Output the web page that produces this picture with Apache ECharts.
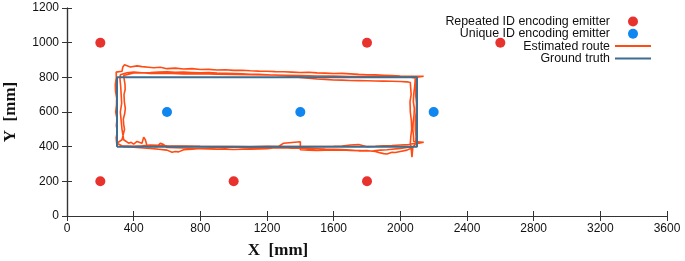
<!DOCTYPE html>
<html>
<head>
<meta charset="utf-8">
<script src="https://cdn.jsdelivr.net/npm/echarts@6/dist/echarts.min.js"></script>
<style>
  html, body { margin: 0; padding: 0; background: #fff; }
  #chart { width: 685px; height: 261px; }
</style>
</head>
<body>
<div id="chart"></div>
<script>
const xTicks = [0, 400, 800, 1200, 1600, 2000, 2400, 2800, 3200, 3600];
const yTicks = [0, 200, 400, 600, 800, 1000, 1200];

const repeatedEmitters = [[200, 1000], [1800, 1000], [2600, 1000], [200, 200], [1000, 200], [1800, 200]];
const uniqueEmitters = [[600, 600], [1400, 600], [2200, 600]];

const groundTruth = [[300, 400], [300, 800], [2100, 800], [2100, 400], [300, 400]];

// estimated route, three laps
const routeLapA = [
  [300, 400], [295, 450], [302, 490], [296, 520], [300, 560], [292, 600], [297, 640], [298, 680],
  [291, 720], [290, 760], [296, 800], [295, 830], [330, 835], [335, 860], [345, 872], [380, 860],
  [420, 866], [450, 862], [490, 858], [520, 855], [560, 858], [600, 850], [650, 853], [700, 848],
  [750, 850], [800, 845], [850, 846], [900, 842], [950, 844], [1000, 840], [1050, 841], [1100, 838],
  [1150, 836], [1200, 835], [1250, 833], [1300, 832], [1350, 830], [1400, 828], [1450, 829],
  [1500, 826], [1550, 824], [1600, 822], [1650, 823], [1700, 820], [1750, 817], [1800, 815],
  [1850, 814], [1900, 812], [1950, 810], [2000, 808], [2060, 806], [2140, 806], [2090, 800],
  [2088, 770], [2085, 740], [2080, 700], [2078, 660], [2084, 620], [2082, 580], [2077, 540],
  [2075, 500], [2079, 460], [2080, 430], [2140, 425], [2090, 415], [2075, 395], [2040, 380],
  [2000, 372], [1970, 366], [1950, 368], [1920, 358], [1900, 360], [1870, 366], [1850, 372],
  [1820, 375], [1800, 378], [1750, 376], [1700, 380], [1650, 383], [1600, 385], [1550, 386],
  [1500, 388], [1450, 390], [1400, 392], [1350, 391], [1300, 394], [1250, 393], [1200, 392],
  [1150, 395], [1100, 396], [1050, 395], [1000, 398], [950, 396], [900, 395], [850, 392],
  [800, 390], [750, 386], [700, 382], [670, 370], [650, 372], [630, 368], [600, 380], [550, 385],
  [500, 390], [460, 392], [420, 395], [380, 398], [340, 400], [300, 420]
];
const routeLapB = [
  [330, 440], [345, 500], [340, 530], [338, 560], [346, 590], [350, 620], [344, 660], [342, 700],
  [349, 730], [348, 760], [343, 790], [340, 810], [370, 818], [400, 825], [450, 826], [500, 828],
  [550, 831], [600, 832], [650, 829], [700, 830], [750, 828], [800, 826], [850, 827], [900, 824],
  [950, 823], [1000, 822], [1050, 820], [1100, 818], [1150, 817], [1200, 815], [1250, 812],
  [1300, 810], [1350, 805], [1400, 800], [1450, 795], [1500, 790], [1550, 788], [1600, 785],
  [1650, 784], [1700, 782], [1750, 781], [1800, 780], [1850, 779], [1900, 778], [1950, 777],
  [2000, 776], [2040, 774], [2060, 770], [2062, 740], [2065, 700], [2058, 660], [2060, 600],
  [2066, 550], [2068, 500], [2063, 460], [2060, 420], [2066, 380], [2070, 340], [2075, 400],
  [2040, 395], [2000, 390], [1950, 385], [1920, 382], [1880, 380], [1840, 376], [1800, 375],
  [1750, 377], [1700, 378], [1650, 381], [1600, 380], [1550, 379], [1500, 378], [1450, 380],
  [1400, 382], [1400, 428], [1300, 420], [1260, 395], [1200, 388], [1150, 387], [1100, 386],
  [1050, 385], [1000, 384], [950, 386], [900, 385], [850, 387], [800, 388], [750, 390], [700, 392],
  [650, 394], [600, 396], [580, 412], [560, 420], [540, 400], [510, 404], [480, 405], [470, 440],
  [460, 455], [450, 420], [440, 410], [420, 430], [400, 415], [385, 425], [370, 420], [340, 440]
];
const routeLapC = [
  [330, 500], [325, 550], [320, 600], [328, 650], [325, 700], [322, 750], [318, 790], [320, 815],
  [360, 826], [400, 830], [450, 826], [500, 822], [600, 824], [700, 820], [800, 821], [900, 818],
  [1000, 817], [1100, 815], [1200, 814], [1300, 812], [1400, 810], [1500, 808], [1600, 807],
  [1700, 805], [1800, 804], [1900, 803], [2000, 802], [2060, 802], [2095, 795], [2094, 750],
  [2092, 700], [2097, 650], [2095, 600], [2090, 550], [2090, 500], [2094, 460], [2092, 420],
  [2050, 412], [2000, 410], [1950, 407], [1900, 405], [1850, 402], [1800, 400], [1750, 412],
  [1700, 410], [1650, 404], [1600, 402], [1500, 401], [1400, 400], [1300, 401], [1200, 402],
  [1100, 399], [1000, 400], [900, 401], [800, 402], [700, 404], [600, 405], [550, 408], [500, 410],
  [450, 405], [400, 402], [360, 404], [320, 405]
];
const estimatedRoute = routeLapA.concat(routeLapB, routeLapC);

const axisColor = '#333';
const labelFont = 'Liberation Sans, Arial, sans-serif';
const nameStyle = { fontFamily: 'Liberation Serif, serif', fontWeight: 'bold', fontSize: 17, color: '#111' };
const plain = v => String(v);
const hiddenMarker = { color: 'rgba(0,0,0,0)', borderWidth: 0, opacity: 0 };

const chart = echarts.init(document.getElementById('chart'));

function mirrorAxis(pos, min, max, interval) {
  return {
    type: 'value', position: pos, min, max, interval,
    axisLine: { show: true, lineStyle: { color: axisColor, width: 1.2 } },
    axisTick: { show: true, inside: true, length: 5, lineStyle: { color: axisColor } },
    axisLabel: { show: false },
    splitLine: { show: false }
  };
}

chart.setOption({
  backgroundColor: '#fff',
  animation: false,
  grid: { left: 67, right: 18, top: 8, bottom: 45, outerBoundsMode: 'none', containLabel: false },
  legend: {
    orient: 'vertical',
    right: 28,
    top: 10.5,
    align: 'right',
    itemWidth: 36,
    itemHeight: 10,
    itemGap: 0.3,
    textStyle: { fontFamily: labelFont, fontSize: 12.4, lineHeight: 10, color: '#111' },
    data: [
      { name: 'Repeated ID encoding emitter', icon: 'circle' },
      { name: 'Unique ID encoding emitter', icon: 'circle' },
      { name: 'Estimated route', itemStyle: hiddenMarker, lineStyle: { color: '#ff4b14', width: 2, opacity: 1 } },
      { name: 'Ground truth', itemStyle: hiddenMarker, lineStyle: { color: '#3d6d90', width: 2, opacity: 1 } }
    ]
  },
  xAxis: [
    {
      type: 'value', min: xTicks[0], max: xTicks[xTicks.length - 1], interval: 400,
      name: 'X  [mm]', nameLocation: 'middle', nameGap: 26,
      nameTextStyle: Object.assign({ padding: [0, 178, 0, 0] }, nameStyle),
      axisLine: { show: true, lineStyle: { color: axisColor, width: 1.2 } },
      axisTick: { show: true, inside: true, length: 5, lineStyle: { color: axisColor } },
      axisLabel: { color: '#111', fontFamily: labelFont, fontSize: 12, margin: 7, formatter: plain },
      splitLine: { show: false }
    },
    mirrorAxis('top', 0, 3600, 400)
  ],
  yAxis: [
    {
      type: 'value', min: yTicks[0], max: yTicks[yTicks.length - 1], interval: 200,
      name: 'Y  [mm]', nameLocation: 'middle', nameGap: 48, nameTextStyle: nameStyle,
      axisLine: { show: true, lineStyle: { color: axisColor, width: 1.2 } },
      axisTick: { show: true, inside: true, length: 5, lineStyle: { color: axisColor } },
      axisLabel: { color: '#111', fontFamily: labelFont, fontSize: 12, margin: 8, formatter: plain },
      splitLine: { show: false }
    },
    mirrorAxis('right', 0, 1200, 200)
  ],
  series: [
    {
      name: 'Estimated route', type: 'line', data: estimatedRoute,
      showSymbol: false, symbol: 'none',
      lineStyle: { color: '#ff4b14', width: 1.6 }, itemStyle: { color: '#ff4b14' }, z: 2
    },
    {
      name: 'Ground truth', type: 'line', data: groundTruth,
      showSymbol: false, symbol: 'none',
      lineStyle: { color: '#3d6d90', width: 2 }, itemStyle: { color: '#3d6d90' }, z: 3
    },
    {
      name: 'Repeated ID encoding emitter', type: 'scatter', data: repeatedEmitters,
      symbolSize: 10, itemStyle: { color: '#e8322e', opacity: 1 }, z: 4
    },
    {
      name: 'Unique ID encoding emitter', type: 'scatter', data: uniqueEmitters,
      symbolSize: 10, itemStyle: { color: '#0f86f0', opacity: 1 }, z: 4
    }
  ]
});
</script>
</body>
</html>
